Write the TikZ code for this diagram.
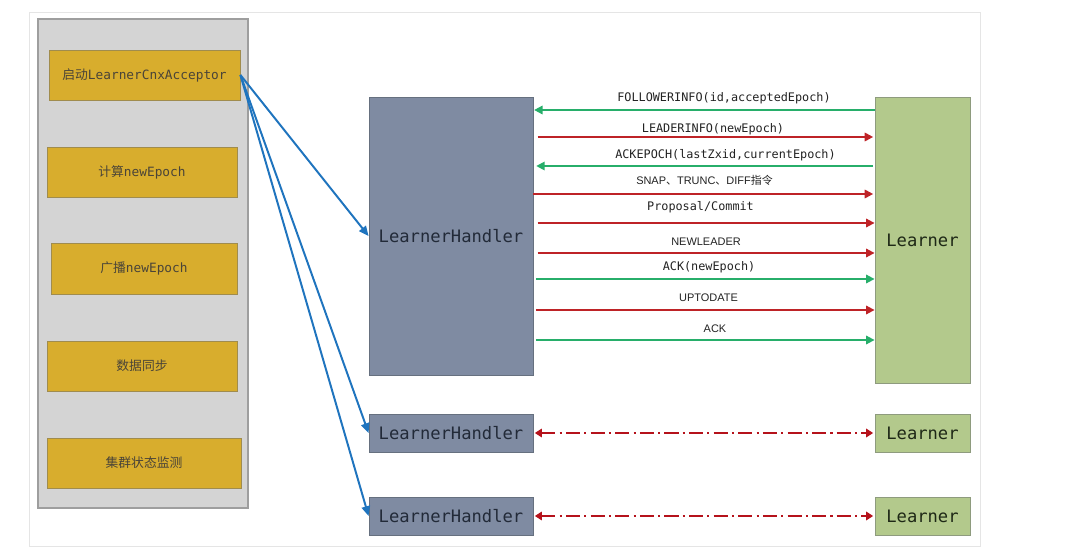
\documentclass[tikz,border=0pt]{standalone}
\usepackage{fontspec}
\setmonofont{DejaVu Sans Mono}
\setsansfont{Liberation Sans}
\newfontfamily\cjk{Noto Sans CJK SC}
\usetikzlibrary{arrows.meta}

\definecolor{framegray}{HTML}{E5E5E5}
\definecolor{panelgray}{HTML}{D4D4D4}
\definecolor{panelborder}{HTML}{9E9E9E}
\definecolor{stepyellow}{HTML}{D8AD2D}
\definecolor{stepborder}{HTML}{A08C4E}
\definecolor{steptext}{HTML}{4A4438}
\definecolor{handlerfill}{HTML}{7F8BA2}
\definecolor{handlerborder}{HTML}{66707F}
\definecolor{handlertext}{HTML}{222A38}
\definecolor{learnerfill}{HTML}{B3C98C}
\definecolor{learnerborder}{HTML}{8E9B7E}
\definecolor{learnertext}{HTML}{1E2816}
\definecolor{msggreen}{HTML}{27AE6A}
\definecolor{msgred}{HTML}{BE2327}
\definecolor{acceptblue}{HTML}{1F74BE}
\definecolor{syncred}{HTML}{B5121B}
\definecolor{msgtext}{HTML}{222222}

\newcommand{\unitpx}{0.025cm}

\begin{document}
\begin{tikzpicture}[
            x=\unitpx, y=-\unitpx,
            panel/.style={draw=panelborder, fill=panelgray, line width=0.8pt, inner sep=0},
            stepbox/.style={draw=stepborder, fill=stepyellow, line width=0.6pt, inner sep=0,
                minimum width=190*\unitpx, minimum height=50*\unitpx,
                font=\ttfamily\fontsize{9.1}{11}\selectfont, text=steptext},
            handler/.style={draw=handlerborder, fill=handlerfill, line width=0.6pt, inner sep=0,
                minimum width=164*\unitpx, minimum height=38*\unitpx,
                font=\ttfamily\fontsize{12.2}{14}\selectfont, text=handlertext},
            learner/.style={draw=learnerborder, fill=learnerfill, line width=0.6pt, inner sep=0,
                minimum width=95*\unitpx, minimum height=38*\unitpx,
                font=\ttfamily\fontsize{12.2}{14}\selectfont, text=learnertext},
            msgmono/.style={inner sep=0, text=msgtext, font=\ttfamily\fontsize{8.4}{10}\selectfont},
            msgsans/.style={inner sep=0, text=msgtext, font=\sffamily\fontsize{7.8}{10}\selectfont},
            greenmsg/.style={draw=msggreen, line width=1.3pt, -{Triangle[length=6pt, width=6pt]}},
            redmsg/.style={draw=msgred, line width=1.3pt, -{Triangle[length=6pt, width=6pt]}},
            acceptarrow/.style={draw=acceptblue, line width=1.4pt, -{Triangle[length=7pt, width=6pt]}},
            syncline/.style={draw=syncred, line width=1.3pt, dash pattern=on 10pt off 3pt on 1.5pt off 3pt,
                {Triangle[length=5pt, width=6pt]}-{Triangle[length=5pt, width=6pt]}}
        ]
            \useasboundingbox (0,0) rectangle (1080,557);

            % outer frame
            \draw[framegray, line width=0.6pt] (29,12) rectangle (980,546);

            % left panel with the steps
            \node[panel, minimum width=210*\unitpx, minimum height=489*\unitpx] (panel) at (143,263.5) {};
            \node[stepbox, minimum width=191*\unitpx] (acceptor) at (144.5,75) {{\cjk 启动}LearnerCnxAcceptor};
            \node[stepbox] (calcepoch) at (142,172) {{\cjk 计算}newEpoch};
            \node[stepbox, minimum width=186*\unitpx, minimum height=51*\unitpx] (bcastepoch) at (144,268.5) {{\cjk 广播}newEpoch};
            \node[stepbox] (datasync) at (142,366) {\cjk 数据同步};
            \node[stepbox, minimum width=194*\unitpx] (monitor) at (144,463) {\cjk 集群状态监测};

            % handlers
            \node[handler, minimum height=278*\unitpx] (handlerA) at (451,236) {LearnerHandler};
            \node[handler] (handlerB) at (451,433) {LearnerHandler};
            \node[handler] (handlerC) at (451,516) {LearnerHandler};

            % learners
            \node[learner, minimum height=286*\unitpx] (learnerA) at (922.5,240) {Learner};
            \node[learner] (learnerB) at (922.5,433) {Learner};
            \node[learner] (learnerC) at (922.5,516) {Learner};

            % acceptor starts the handlers
            \draw[acceptarrow] (acceptor.east) -- (handlerA.west);
            \draw[acceptarrow] (acceptor.east) -- (handlerB.west);
            \draw[acceptarrow] (acceptor.east) -- (handlerC.west);

            % messages between handler and learner
            \draw[greenmsg, shorten >=0.5pt] (learnerA.west |- 0,110) -- (handlerA.east |- 0,110);
            \draw[redmsg, shorten <=3pt, shorten >=1pt] (handlerA.east |- 0,137) -- (learnerA.west |- 0,137);
            \draw[greenmsg, shorten <=1pt, shorten >=2pt] (learnerA.west |- 0,166) -- (handlerA.east |- 0,166);
            \draw[redmsg, shorten >=1pt] (handlerA.east |- 0,194) -- (learnerA.west |- 0,194);
            \draw[redmsg, shorten <=3pt] (handlerA.east |- 0,223) -- (learnerA.west |- 0,223);
            \draw[redmsg, shorten <=3pt] (handlerA.east |- 0,253) -- (learnerA.west |- 0,253);
            \draw[greenmsg, shorten <=2pt] (handlerA.east |- 0,279) -- (learnerA.west |- 0,279);
            \draw[redmsg, shorten <=2pt] (handlerA.east |- 0,310) -- (learnerA.west |- 0,310);
            \draw[greenmsg, shorten <=2pt] (handlerA.east |- 0,340) -- (learnerA.west |- 0,340);

            % message labels
            \node[msgmono] (followerinfo) at (724,98) {FOLLOWERINFO(id,acceptedEpoch)};
            \node[msgmono] (leaderinfo) at (713,129) {LEADERINFO(newEpoch)};
            \node[msgmono] (ackepoch) at (725.5,155) {ACKEPOCH(lastZxid,currentEpoch)};
            \node[msgsans] (syncmode) at (704.5,180) {SNAP{\cjk 、}TRUNC{\cjk 、}DIFF{\cjk 指令}};
            \node[msgmono] (proposal) at (700.5,207) {Proposal/Commit};
            \node[msgsans] (newleader) at (706,242) {NEWLEADER};
            \node[msgmono] (acknewepoch) at (709,267) {ACK(newEpoch)};
            \node[msgsans] (uptodate) at (708.5,298) {UPTODATE};
            \node[msgsans] (ack) at (715,329) {ACK};

            % other handler/learner pairs
            \draw[syncline, shorten <=1pt, shorten >=1pt] (handlerB) -- (learnerB);
            \draw[syncline, shorten <=1pt, shorten >=1pt] (handlerC) -- (learnerC);

        \end{tikzpicture}
\end{document}
